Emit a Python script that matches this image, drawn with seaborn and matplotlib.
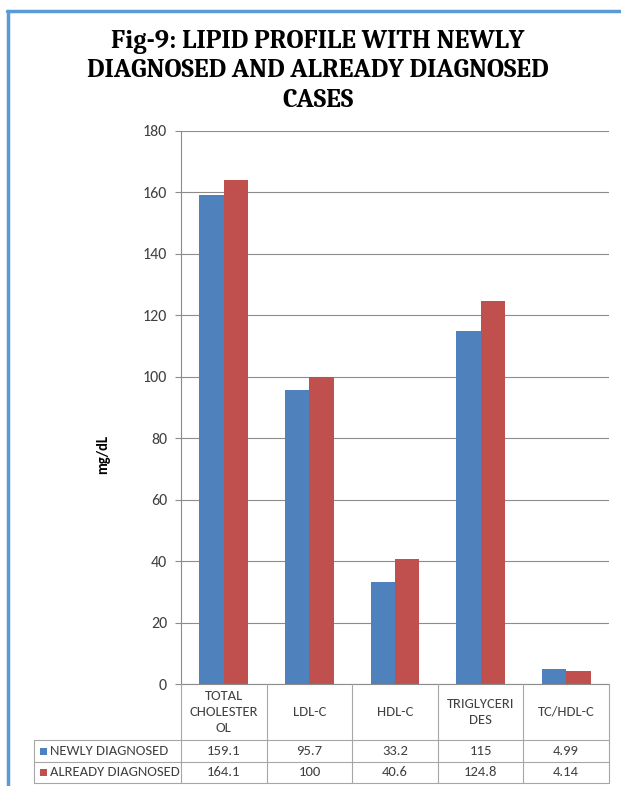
import matplotlib
matplotlib.use("Agg")
import matplotlib.pyplot as plt
import matplotlib.transforms as mtransforms
from matplotlib.patches import Rectangle
from matplotlib.lines import Line2D
import pandas as pd
import seaborn as sns

# Lipid profile values (mg/dL)
categories = ["TOTAL\nCHOLESTER\nOL", "LDL-C", "HDL-C", "TRIGLYCERI\nDES", "TC/HDL-C"]
series_names = ["NEWLY DIAGNOSED", "ALREADY DIAGNOSED"]
newly_diagnosed = [159.1, 95.7, 33.2, 115, 4.99]
already_diagnosed = [164.1, 100, 40.6, 124.8, 4.14]
newly_labels = ["159.1", "95.7", "33.2", "115", "4.99"]
already_labels = ["164.1", "100", "40.6", "124.8", "4.14"]
y_ticks = [0, 20, 40, 60, 80, 100, 120, 140, 160, 180]

colors = ["#4F81BD", "#C0504D"]
grid_color = "#8c8c8c"
table_color = "#a6a6a6"
text_color = "#404040"

sns.set_theme(style="white")
plt.rcParams["font.family"] = ["Carlito", "DejaVu Sans"]

df = pd.DataFrame({
    "category": categories * 2,
    "series": [series_names[0]] * 5 + [series_names[1]] * 5,
    "value": newly_diagnosed + already_diagnosed,
})

W, H = 621, 786
fig = plt.figure(figsize=(W / 100, H / 100), dpi=100)

def fx(px):
    return px / W

def fy(py):
    return 1 - py / H

ax_left, ax_right, ax_top, ax_bottom = 181, 609, 131, 684
ax = fig.add_axes([fx(ax_left), fy(ax_bottom), fx(ax_right - ax_left), (ax_bottom - ax_top) / H])

sns.barplot(data=df, x="category", y="value", hue="series", palette=colors,
            width=2 / 3.5, ax=ax, legend=False, saturation=1, edgecolor="none")

ax.set_ylim(0, 180)
ax.set_xlim(-0.5, 4.5)
ax.set_yticks(y_ticks)
ax.set_yticklabels([str(t) for t in y_ticks], fontsize=11.5, color=text_color)
ax.set_xticks([])
ax.set_xlabel("")
ax.set_ylabel("mg/dL", fontsize=10.5, fontweight="bold", color="black")
ax.yaxis.set_label_coords((110 - ax_left) / (ax_right - ax_left),
                          (ax_bottom - 455) / (ax_bottom - ax_top))
ax.yaxis.grid(True, color=grid_color, linewidth=0.8)
ax.set_axisbelow(True)
ax.tick_params(axis="y", length=4, width=0.8, color=grid_color, pad=6, left=True)
for side in ["top", "right"]:
    ax.spines[side].set_visible(False)
for side in ["left", "bottom"]:
    ax.spines[side].set_color(grid_color)
    ax.spines[side].set_linewidth(0.8)

# Data table beneath the plot
blend = mtransforms.blended_transform_factory(ax.transData, fig.transFigure)
row1_top, row2_top, table_bottom = 740, 762, 783
table_left = 34

for i in range(6):
    xb = i - 0.5
    fig.add_artist(Line2D([xb, xb], [fy(ax_bottom), fy(table_bottom)], transform=blend,
                          color=table_color, linewidth=0.8))
for yy in [row1_top, row2_top, table_bottom]:
    fig.add_artist(Line2D([fx(table_left), fx(ax_right)], [fy(yy), fy(yy)],
                          transform=fig.transFigure, color=table_color, linewidth=0.8))
fig.add_artist(Line2D([fx(table_left), fx(table_left)], [fy(row1_top), fy(table_bottom)],
                      transform=fig.transFigure, color=table_color, linewidth=0.8))

cell_font = 10.5
for i, cat in enumerate(categories):
    fig.text(i, fy((ax_bottom + row1_top) / 2), cat, transform=blend, ha="center", va="center",
             fontsize=cell_font, color=text_color, linespacing=1.45)
    fig.text(i, fy((row1_top + row2_top) / 2), newly_labels[i], transform=blend,
             ha="center", va="center", fontsize=cell_font, color=text_color)
    fig.text(i, fy((row2_top + table_bottom) / 2), already_labels[i], transform=blend,
             ha="center", va="center", fontsize=cell_font, color=text_color)

for k, (name, top, bot) in enumerate([(series_names[0], row1_top, row2_top),
                                      (series_names[1], row2_top, table_bottom)]):
    cy = (top + bot) / 2
    fig.add_artist(Rectangle((fx(40), fy(cy + 3.5)), fx(7), 7 / H, transform=fig.transFigure,
                             facecolor=colors[k], edgecolor="none"))
    fig.text(fx(50), fy(cy), name, ha="left", va="center", fontsize=cell_font, color=text_color)

# Title
fig.text(fx(318), fy(71), "Fig-9: LIPID PROFILE WITH NEWLY\nDIAGNOSED AND ALREADY DIAGNOSED\nCASES",
         ha="center", va="center", fontsize=19, fontweight="bold", family="Caladea",
         color="black", linespacing=1.28)

# Frame lines along the top and left edges
fig.add_artist(Line2D([fx(7), 1], [fy(11), fy(11)], transform=fig.transFigure,
                      color="#5B9BD5", linewidth=2.5))
fig.add_artist(Line2D([fx(7.5), fx(7.5)], [fy(11), 0], transform=fig.transFigure,
                      color="#5B9BD5", linewidth=2.5))

fig.savefig("out.png", dpi=100)
